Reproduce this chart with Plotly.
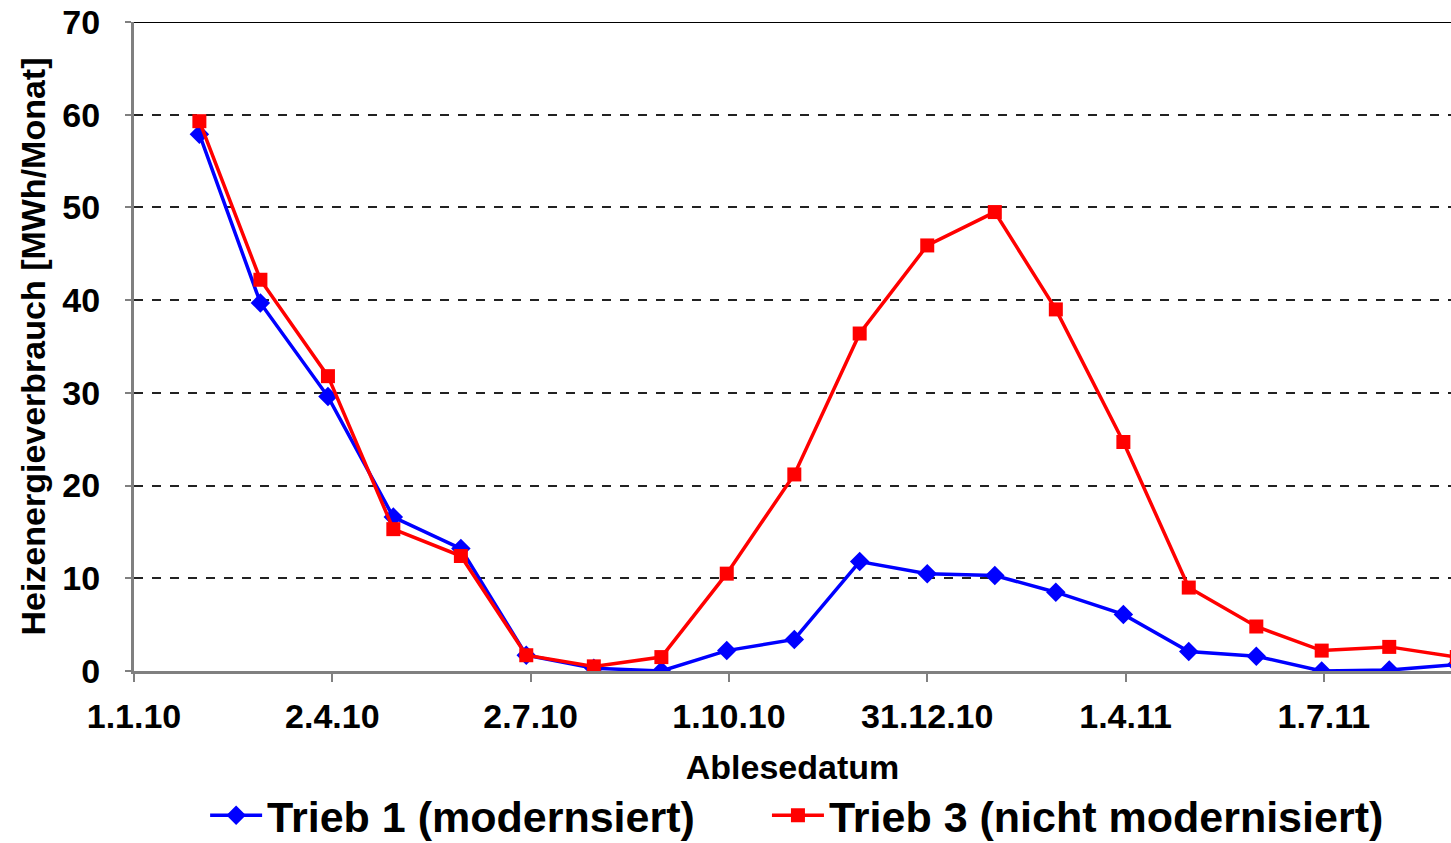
import plotly.graph_objects as go

dates = ["2010-01-31", "2010-02-28", "2010-03-31", "2010-04-30", "2010-05-31", "2010-06-30",
         "2010-07-31", "2010-08-31", "2010-09-30", "2010-10-31", "2010-11-30", "2010-12-31",
         "2011-01-31", "2011-02-28", "2011-03-31", "2011-04-30", "2011-05-31", "2011-06-30",
         "2011-07-31", "2011-08-31"]
trieb1 = [57.9, 39.7, 29.6, 16.6, 13.2, 1.7, 0.3, 0.0, 2.2, 3.4, 11.8, 10.5,
          10.3, 8.5, 6.1, 2.1, 1.6, 0.0, 0.1, 0.7]
trieb3 = [59.3, 42.2, 31.8, 15.3, 12.4, 1.7, 0.5, 1.5, 10.5, 21.2, 36.4, 45.9,
          49.5, 39.0, 24.7, 9.0, 4.8, 2.2, 2.6, 1.5]
tick_dates = ["2010-01-01", "2010-04-02", "2010-07-02", "2010-10-01", "2010-12-31",
              "2011-04-01", "2011-07-01"]
tick_labels = ["1.1.10", "2.4.10", "2.7.10", "1.10.10", "31.12.10", "1.4.11", "1.7.11"]
y_ticks = [0, 10, 20, 30, 40, 50, 60, 70]

FONT = "Liberation Sans, Arial, sans-serif"

fig = go.Figure()
fig.add_trace(go.Scatter(
    x=dates, y=trieb1, mode="lines+markers", name="Trieb 1 (modernsiert)",
    line=dict(color="#0000FF", width=3.5),
    marker=dict(symbol="diamond", size=15, color="#0000FF"),
    legend="legend",
))
fig.add_trace(go.Scatter(
    x=dates, y=trieb3, mode="lines+markers", name="Trieb 3 (nicht modernisiert)",
    line=dict(color="#FF0000", width=3.5),
    marker=dict(symbol="square", size=14, color="#FF0000"),
    legend="legend2",
))

fig.add_shape(type="line", xref="paper", yref="y", x0=0, x1=1, y0=70, y1=70,
              line=dict(color="black", width=2))

fig.add_annotation(
    text="Heizenergieverbrauch [MWh/Monat]", textangle=-90,
    xref="paper", yref="paper", x=-0.0774, y=0.5, xanchor="center", yanchor="middle",
    showarrow=False, font=dict(family=FONT, size=34, color="black", weight="bold"),
)

legend_common = dict(
    orientation="h", xanchor="left", y=-0.169, yanchor="top",
    font=dict(family=FONT, size=43, color="black", weight="bold"),
    itemwidth=52, bgcolor="rgba(0,0,0,0)",
)

fig.update_layout(
    width=1451, height=843, autosize=False,
    margin=dict(l=134, r=0, t=22, b=172, autoexpand=False),
    paper_bgcolor="white", plot_bgcolor="white",
    font=dict(family=FONT, size=34, color="black", weight="bold"),
    showlegend=True,
    legend=dict(x=0.054, **legend_common),
    legend2=dict(x=0.4806, **legend_common),
    xaxis=dict(
        type="date", range=["2010-01-01", "2011-08-28 08:00"],
        tickmode="array", tickvals=tick_dates, ticktext=tick_labels,
        tickfont=dict(family=FONT, size=34, color="black", weight="bold"),
        ticks="outside", ticklen=8, tickwidth=2, tickcolor="#808080",
        ticklabelstandoff=5,
        showline=True, linecolor="#808080", linewidth=3,
        showgrid=False, zeroline=False, automargin=False,
        title=dict(text="Ablesedatum", font=dict(family=FONT, size=34, weight="bold"), standoff=22),
    ),
    yaxis=dict(
        range=[0, 70], tickmode="array", tickvals=y_ticks,
        tickfont=dict(family=FONT, size=34, color="black", weight="bold"),
        ticks="outside", ticklen=6, tickwidth=2, tickcolor="#808080",
        ticklabelstandoff=18,
        showline=True, linecolor="#808080", linewidth=3,
        showgrid=True, gridcolor="#222222", griddash="dash", gridwidth=1.5,
        zeroline=False, automargin=False,
    ),
)

fig.write_html(
    "out.html",
    config={"displayModeBar": False, "responsive": False},
    post_script=(
        "document.documentElement.style.margin='0';"
        "document.documentElement.style.overflow='hidden';"
        "document.body.style.margin='0';"
        "document.body.style.overflow='hidden';"
    ),
)
